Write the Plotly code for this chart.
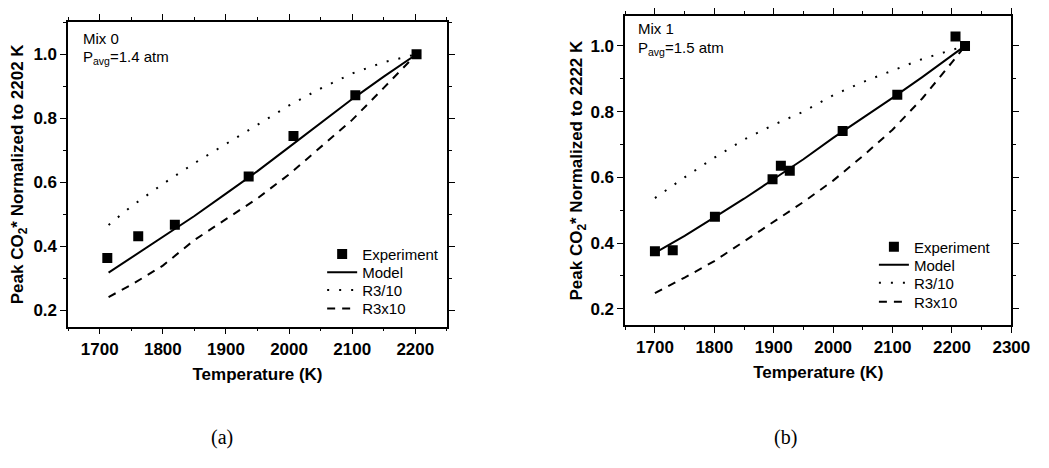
import plotly.graph_objects as go

# page has an 8px body margin; figure coordinates = page pixels - OFF
OFF = 8
W, H = 1041, 460

# ---- Panel (a): Mix 0 ----
a_exp_T = [1712, 1761, 1819, 1936, 2007, 2105, 2202]
a_exp_v = [0.364, 0.432, 0.468, 0.618, 0.745, 0.872, 1.0]
a_mod_T = [1714, 1750, 1800, 1850, 1900, 1950, 2000, 2050, 2100, 2150, 2202]
a_mod_v = [0.318, 0.365, 0.43, 0.495, 0.565, 0.635, 0.71, 0.785, 0.86, 0.93, 1.0]
a_r3d_T = [1714, 1750, 1800, 1850, 1900, 1950, 2000, 2050, 2100, 2150, 2202]
a_r3d_v = [0.467, 0.525, 0.595, 0.66, 0.72, 0.78, 0.84, 0.893, 0.94, 0.975, 1.0]
a_r3m_T = [1714, 1750, 1800, 1850, 1900, 1950, 2000, 2050, 2100, 2150, 2202]
a_r3m_v = [0.242, 0.28, 0.34, 0.42, 0.485, 0.55, 0.625, 0.71, 0.795, 0.895, 1.0]

# ---- Panel (b): Mix 1 ----
b_exp_T = [1700, 1730, 1801, 1898, 1912, 1927, 2016, 2108, 2206, 2222]
b_exp_v = [0.375, 0.378, 0.48, 0.594, 0.635, 0.62, 0.741, 0.851, 1.029, 1.0]
b_mod_T = [1700, 1750, 1800, 1850, 1900, 1950, 2000, 2050, 2100, 2150, 2222]
b_mod_v = [0.37, 0.422, 0.478, 0.535, 0.595, 0.655, 0.72, 0.78, 0.842, 0.905, 1.0]
b_r3d_T = [1700, 1750, 1800, 1850, 1900, 1950, 2000, 2050, 2100, 2150, 2222]
b_r3d_v = [0.537, 0.6, 0.66, 0.715, 0.76, 0.80, 0.85, 0.89, 0.925, 0.96, 1.0]
b_r3m_T = [1700, 1750, 1800, 1850, 1900, 1950, 2000, 2050, 2100, 2150, 2200, 2222]
b_r3m_v = [0.248, 0.295, 0.345, 0.405, 0.465, 0.525, 0.59, 0.665, 0.745, 0.84, 0.95, 1.0]

series_names = ["Experiment", "Model", "R3/10", "R3x10"]
a_xticks = [1700, 1800, 1900, 2000, 2100, 2200]
b_xticks = [1700, 1800, 1900, 2000, 2100, 2200, 2300]
yticks = [0.2, 0.4, 0.6, 0.8, 1.0]
ytick_text = ["0.2", "0.4", "0.6", "0.8", "1.0"]

FONT = "Liberation Sans"


def xp(px):
    return (px - OFF) / W


def yp(py):
    return min(1.0, 1 - (py - OFF) / H)


fig = go.Figure()

styles = [
    dict(mode="markers", marker=dict(symbol="square", size=10, color="black")),
    dict(mode="lines", line=dict(color="black", width=2)),
    dict(mode="lines", line=dict(color="black", width=2, dash="2px,10px")),
    dict(mode="lines", line=dict(color="black", width=2, dash="8px,7px")),
]


def add_panel(xa, ya, legs, data):
    for name, st, leg, (T, v) in zip(series_names, styles, legs, data):
        fig.add_trace(go.Scatter(x=T, y=v, name=name, xaxis=xa, yaxis=ya,
                                 legend=leg, **st))


add_panel("x", "y", ["legend", "legend2", "legend3", "legend4"],
          [(a_exp_T, a_exp_v), (a_mod_T, a_mod_v), (a_r3d_T, a_r3d_v), (a_r3m_T, a_r3m_v)])
add_panel("x2", "y2", ["legend5", "legend6", "legend7", "legend8"],
          [(b_exp_T, b_exp_v), (b_mod_T, b_mod_v), (b_r3d_T, b_r3d_v), (b_r3m_T, b_r3m_v)])

axis_common = dict(showline=True, linecolor="black", linewidth=1.5, mirror="ticks",
                   ticks="outside", ticklen=6, tickwidth=1.2, tickcolor="black",
                   showgrid=False, zeroline=False,
                   tickfont=dict(family=FONT, size=17, color="black", weight="bold"))

xtitle = dict(text="<b>Temperature (K)</b>",
              font=dict(family=FONT, size=17, color="black", weight="bold"), standoff=10)


def ytitle(t, so):
    return dict(text="<b>Peak CO<sub>2</sub>* Normalized to %s K</b>" % t,
                font=dict(family=FONT, size=17, color="black", weight="bold"), standoff=so)


def bold(lst):
    return ["<b>%s</b>" % s for s in lst]


def leg(xpx, ypx):
    return dict(x=xp(xpx), y=yp(ypx), xanchor="left", yanchor="middle",
                bgcolor="rgba(0,0,0,0)", font=dict(family=FONT, size=15, color="black"),
                itemwidth=30, borderwidth=0)


# right panel top frame cannot go above the page margin; keep the same data scale
b_top_px = max(5, OFF)
b_ymax = 1.1 - (b_top_px - 5) / 334.0

a_leg_y = [250.5, 269, 287, 306]
b_leg_y = [243, 261.3, 279.7, 299]

layout_legs = {}
for i, yy in enumerate(a_leg_y):
    layout_legs["legend" if i == 0 else "legend%d" % (i + 1)] = leg(328, yy)
for i, yy in enumerate(b_leg_y):
    layout_legs["legend%d" % (i + 5)] = leg(890, yy)

fig.update_layout(
    width=W, height=H,
    margin=dict(l=0, r=0, t=0, b=0),
    paper_bgcolor="white", plot_bgcolor="white",
    font=dict(family=FONT, color="black"),
    showlegend=True,
    xaxis=dict(domain=[xp(69.3), xp(455)], range=[1650, 2250], tickvals=a_xticks,
               ticktext=bold([str(v) for v in a_xticks]),
               minor=dict(dtick=50, tick0=1650, ticklen=3, tickcolor="black", ticks="outside"),
               anchor="y", title=xtitle, **axis_common),
    yaxis=dict(domain=[yp(324), yp(14.3)], range=[0.15, 1.1], tickvals=yticks,
               ticktext=bold(ytick_text),
               minor=dict(dtick=0.1, tick0=0.1, ticklen=3, tickcolor="black", ticks="outside"),
               anchor="x", title=ytitle("2202", 5), **axis_common),
    xaxis2=dict(domain=[xp(636.7), xp(1030)], range=[1650, 2300], tickvals=b_xticks,
                ticktext=bold([str(v) for v in b_xticks]),
                minor=dict(dtick=50, tick0=1650, ticklen=3, tickcolor="black", ticks="outside"),
                anchor="y2", title=xtitle, **axis_common),
    yaxis2=dict(domain=[yp(322.7), yp(b_top_px)], range=[0.15, b_ymax], tickvals=yticks,
                ticktext=bold(ytick_text),
                minor=dict(dtick=0.1, tick0=0.1, ticklen=3, tickcolor="black", ticks="outside"),
                anchor="x2", title=ytitle("2222", 3), **axis_common),
    **layout_legs,
)

ann_font = dict(family=FONT, size=15, color="black")
fig.add_annotation(text="Mix 0", x=xp(82), y=yp(31), xref="paper", yref="paper",
                   xanchor="left", yanchor="middle", showarrow=False, font=ann_font)
fig.add_annotation(text="P<sub>avg</sub>=1.4 atm", x=xp(82), y=yp(50), xref="paper",
                   yref="paper", xanchor="left", yanchor="middle", showarrow=False, font=ann_font)
fig.add_annotation(text="Mix 1", x=xp(648), y=yp(21), xref="paper", yref="paper",
                   xanchor="left", yanchor="middle", showarrow=False, font=ann_font)
fig.add_annotation(text="P<sub>avg</sub>=1.5 atm", x=xp(648), y=yp(41), xref="paper",
                   yref="paper", xanchor="left", yanchor="middle", showarrow=False, font=ann_font)

lab_font = dict(family="Liberation Serif", size=20, color="black")
fig.add_annotation(text="(a)", x=xp(226), y=yp(437), xref="paper", yref="paper",
                   xanchor="center", yanchor="middle", showarrow=False, font=lab_font)
fig.add_annotation(text="(b)", x=xp(800), y=yp(437), xref="paper", yref="paper",
                   xanchor="center", yanchor="middle", showarrow=False, font=lab_font)

fig.write_html("out.html")
